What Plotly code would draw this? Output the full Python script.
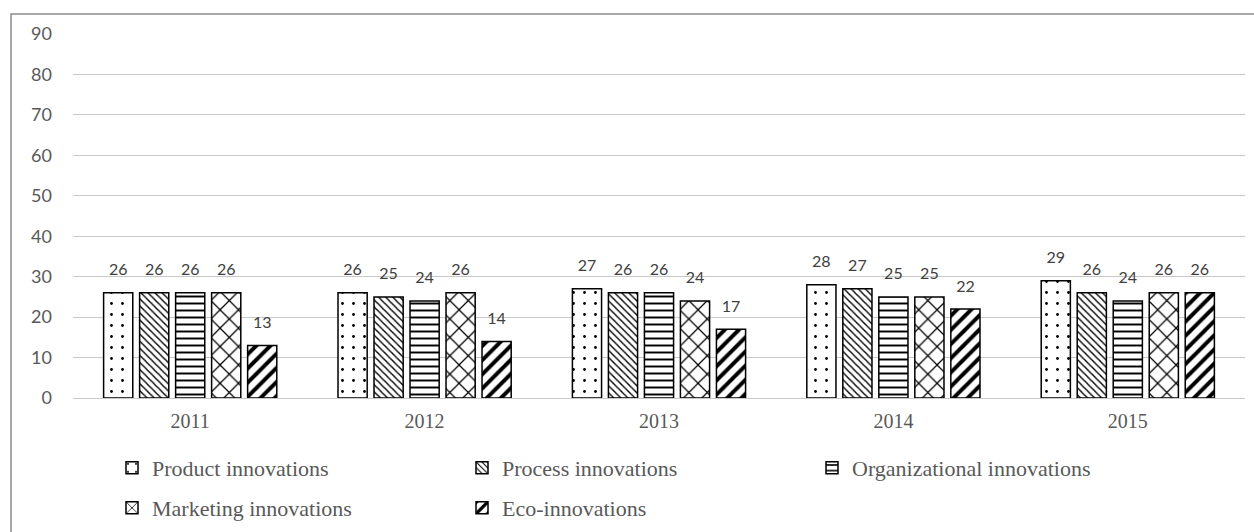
import plotly.graph_objects as go

years = ["2011", "2012", "2013", "2014", "2015"]
series_names = ["Product innovations", "Process innovations", "Organizational innovations",
                "Marketing innovations", "Eco-innovations"]
product = [26, 26, 27, 28, 29]
process = [26, 25, 26, 27, 26]
organizational = [26, 24, 26, 25, 24]
marketing = [26, 26, 24, 25, 26]
eco = [13, 14, 17, 22, 26]
y_ticks = [0, 10, 20, 30, 40, 50, 60, 70, 80, 90]

values = [product, process, organizational, marketing, eco]
patterns = [
    dict(shape=".", size=11, solidity=0.05),
    dict(shape="\\", size=5, solidity=0.28),
    dict(shape="-", size=7, solidity=0.28),
    dict(shape="x", size=13, solidity=0.18),
    dict(shape="/", size=10, solidity=0.4),
]
legends = ["legend", "legend", "legend", "legend2", "legend2"]

W, H = 1254, 532
ML, MR, MT, MB = 73, 9, 34, 134
PW, PH = W - ML - MR, H - MT - MB

def px_x(p):
    return (p - ML) / PW

def px_y(p):
    return (H - MB - p) / PH

BARGAP = 0.232

fig = go.Figure()
for name, vals, pat, lg in zip(series_names, values, patterns, legends):
    fig.add_trace(go.Bar(
        x=years, y=vals, name=name, offsetgroup=name, legend=lg,
        marker=dict(color="white", line=dict(color="black", width=1.5),
                    pattern=dict(fgcolor="black", bgcolor="white", fillmode="replace", **pat)),
        hoverinfo="skip",
    ))
for name, vals in zip(series_names, values):
    fig.add_trace(go.Scatter(
        x=years, y=vals, mode="markers+text", offsetgroup=name, showlegend=False,
        marker=dict(size=20, opacity=0),
        text=[str(v) for v in vals], textposition="top center",
        textfont=dict(family="Lato", size=16, color="#404040"),
        cliponaxis=False, hoverinfo="skip",
    ))

fig.update_layout(
    width=W, height=H,
    margin=dict(l=ML, r=MR, t=MT, b=MB, autoexpand=False),
    paper_bgcolor="white", plot_bgcolor="white",
    barmode="group", bargap=BARGAP, bargroupgap=0.19,
    scattermode="group", scattergap=BARGAP,
    xaxis=dict(type="category", showline=True, linecolor="#c8c8c8", linewidth=1,
               ticks="", showgrid=False, ticklabelstandoff=5,
               tickfont=dict(family="Liberation Serif", size=20, color="#595959")),
    yaxis=dict(range=[0, 90], tickvals=y_ticks, showgrid=True, gridcolor="#c8c8c8",
               gridwidth=1, zeroline=False, showline=False, ticks="",
               ticklabelstandoff=20,
               tickfont=dict(family="Lato", size=18, color="#595959")),
    legend=dict(orientation="h", x=px_x(112), xanchor="left", y=px_y(468), yanchor="middle",
                entrywidth=305, entrywidthmode="pixels", traceorder="normal",
                font=dict(family="Liberation Serif", size=22, color="#595959"),
                bgcolor="rgba(0,0,0,0)"),
    legend2=dict(orientation="h", x=px_x(112), xanchor="left", y=px_y(508), yanchor="middle",
                 entrywidth=305, entrywidthmode="pixels", traceorder="normal",
                 font=dict(family="Liberation Serif", size=22, color="#595959"),
                 bgcolor="rgba(0,0,0,0)"),
    shapes=[dict(type="rect", xref="paper", yref="paper",
                 x0=px_x(11), x1=px_x(1270), y0=px_y(545), y1=px_y(14),
                 line=dict(color="#8c8c8c", width=1.5), fillcolor="rgba(0,0,0,0)", layer="below")],
    showlegend=True,
)

fig.write_html("out.html")
